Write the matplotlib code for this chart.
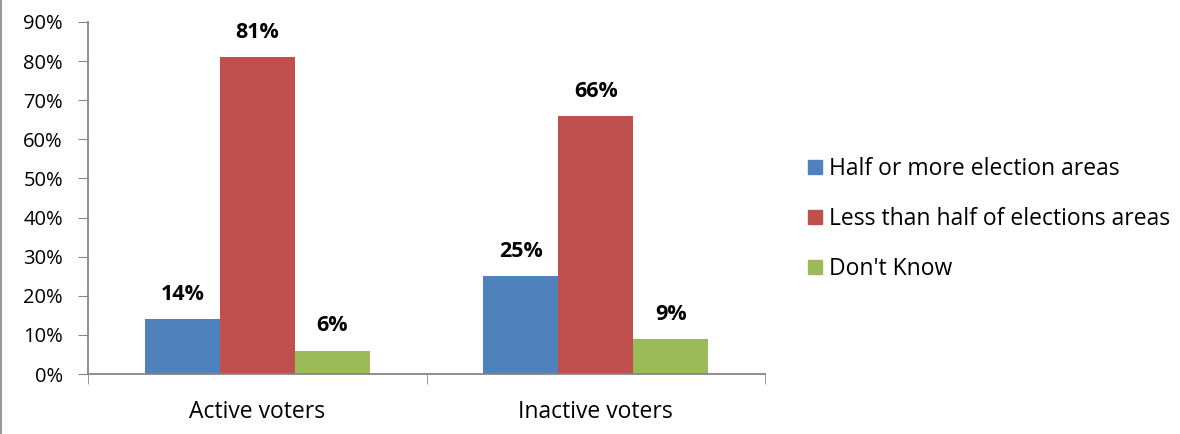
import numpy as np
import matplotlib.pyplot as plt
from matplotlib.lines import Line2D

# chart values
groups = ['Active voters', 'Inactive voters']
series = ['Half or more election areas', 'Less than half of elections areas', "Don't Know"]
values = [[14, 25],   # half or more
          [81, 66],   # less than half
          [6, 9]]     # don't know
colors = ['#4F81BD', '#C0504D', '#9BBB59']
yticks = np.arange(0, 91, 10)

plt.rcParams['font.family'] = 'Open Sans'
axcol = '#868686'

fig = plt.figure(figsize=(11.8, 4.34), dpi=100)
ax = fig.add_axes([88/1180, 60/434, 677/1180, 352/434])

x = np.arange(len(groups))
w = 75/338.5
for i, (name, vals) in enumerate(zip(series, values)):
    pos = x + (i - 1)*w
    ax.bar(pos, vals, width=w, color=colors[i], label=name, zorder=2)
    for p, v in zip(pos, vals):
        ax.text(p, v + 3.6, '%d%%' % v, ha='center', va='bottom',
                fontsize=15.5, fontweight='bold')

ax.set_xlim(-0.5, 1.5)
ax.set_ylim(0, 90)
ax.set_yticks(yticks)
ax.set_yticklabels(['%d%%' % t for t in yticks], fontsize=14.5)
ax.set_xticks(x)
ax.set_xticklabels(groups, fontsize=16.5)
ax.tick_params(axis='x', length=0, pad=19)
ax.tick_params(axis='y', length=7, color=axcol, pad=11)
# category boundary ticks
ax.set_xticks([-0.5, 0.5, 1.5], minor=True)
ax.tick_params(axis='x', which='minor', length=7, color=axcol, direction='out')
for s in ['top', 'right']:
    ax.spines[s].set_visible(False)
for s in ['left', 'bottom']:
    ax.spines[s].set_color(axcol)
    ax.spines[s].set_linewidth(1.3)

handles = [Line2D([], [], marker='s', ls='None', color=c, ms=10.5) for c in colors]
leg = fig.legend(handles, series, loc='center left', bbox_to_anchor=(781/1180, 0.495),
                 frameon=False, fontsize=16.5, handletextpad=0.0, labelspacing=1.13,
                 handlelength=1.2)

# chart frame on the left edge
fig.add_artist(Line2D([0.001, 0.001], [0, 1], color='#999999', lw=1.5))

fig.savefig('out.png', dpi=100)
